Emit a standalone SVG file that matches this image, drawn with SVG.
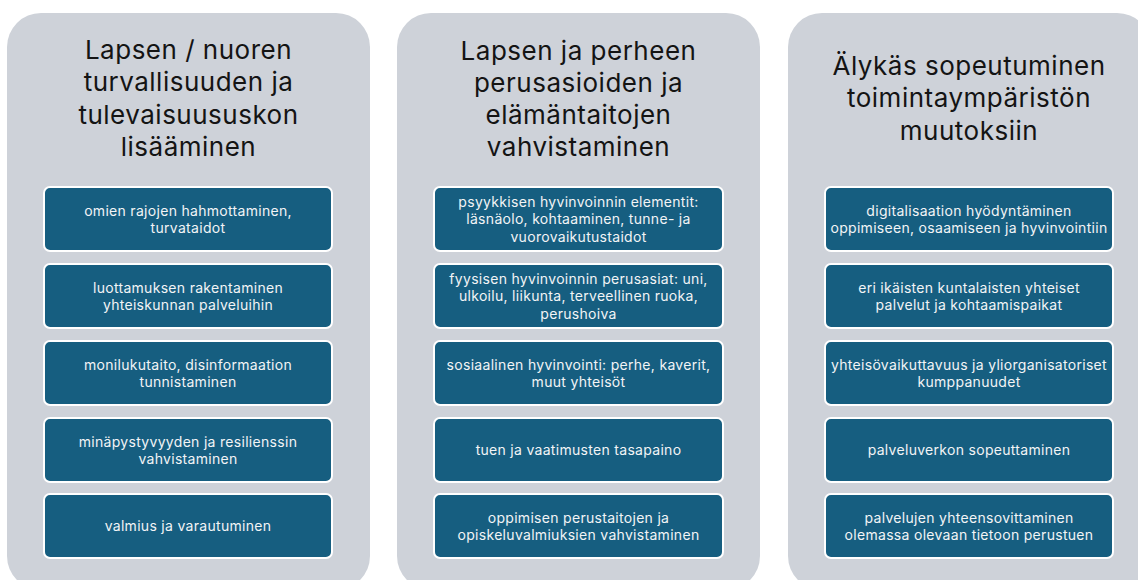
<svg xmlns="http://www.w3.org/2000/svg" width="1138" height="580" viewBox="0 0 1138 580">
<style>
.panel{fill:#CED2D9;}
.box{fill:#165E80;stroke:#FFFFFF;stroke-width:2;}
.title{font-family:Inter,"Open Sans","Liberation Sans",sans-serif;font-size:26px;letter-spacing:0.5px;fill:#141414;text-anchor:middle;}
.lbl{font-family:Inter,"Open Sans","Liberation Sans",sans-serif;font-size:14px;letter-spacing:0.3px;fill:#F2F4F6;text-anchor:middle;}
</style>
<rect width="1138" height="580" fill="#FFFFFF"/>
<g id="col1">
<rect class="panel" x="7" y="13" width="363" height="577" rx="34"/>
<text class="title" x="188.5"><tspan x="188.5" y="58.5">Lapsen / nuoren</tspan><tspan x="188.5" y="91">turvallisuuden ja</tspan><tspan x="188.5" y="123.5">tulevaisuususkon</tspan><tspan x="188.5" y="156">lisääminen</tspan></text>
</g>
<g id="col1-b1"><rect class="box" x="44" y="187" width="288" height="64" rx="6"/><text class="lbl"><tspan x="188" y="215.5">omien rajojen hahmottaminen,</tspan><tspan x="188" y="232.5">turvataidot</tspan></text></g>
<g id="col1-b2"><rect class="box" x="44" y="264" width="288" height="64" rx="6"/><text class="lbl"><tspan x="188" y="292.5">luottamuksen rakentaminen</tspan><tspan x="188" y="309.5">yhteiskunnan palveluihin</tspan></text></g>
<g id="col1-b3"><rect class="box" x="44" y="341" width="288" height="64" rx="6"/><text class="lbl"><tspan x="188" y="369.5">monilukutaito, disinformaation</tspan><tspan x="188" y="386.5">tunnistaminen</tspan></text></g>
<g id="col1-b4"><rect class="box" x="44" y="418" width="288" height="64" rx="6"/><text class="lbl"><tspan x="188" y="446.5">minäpystyvyyden ja resilienssin</tspan><tspan x="188" y="463.5">vahvistaminen</tspan></text></g>
<g id="col1-b5"><rect class="box" x="44" y="494" width="288" height="64" rx="6"/><text class="lbl"><tspan x="188" y="531">valmius ja varautuminen</tspan></text></g>

<g id="col2">
<rect class="panel" x="397" y="13" width="363" height="577" rx="34"/>
<text class="title"><tspan x="578.5" y="60">Lapsen ja perheen</tspan><tspan x="578.5" y="92">perusasioiden ja</tspan><tspan x="578.5" y="124">elämäntaitojen</tspan><tspan x="578.5" y="156">vahvistaminen</tspan></text>
</g>
<g id="col2-b1"><rect class="box" x="434" y="187" width="289" height="64" rx="6"/><text class="lbl"><tspan x="578.5" y="206.5">psyykkisen hyvinvoinnin elementit:</tspan><tspan x="578.5" y="224">läsnäolo, kohtaaminen, tunne- ja</tspan><tspan x="578.5" y="241.5">vuorovaikutustaidot</tspan></text></g>
<g id="col2-b2"><rect class="box" x="434" y="264" width="289" height="64" rx="6"/><text class="lbl"><tspan x="578.5" y="283.5">fyysisen hyvinvoinnin perusasiat: uni,</tspan><tspan x="578.5" y="301">ulkoilu, liikunta, terveellinen ruoka,</tspan><tspan x="578.5" y="318.5">perushoiva</tspan></text></g>
<g id="col2-b3"><rect class="box" x="434" y="341" width="289" height="64" rx="6"/><text class="lbl"><tspan x="578.5" y="369.5">sosiaalinen hyvinvointi: perhe, kaverit,</tspan><tspan x="578.5" y="386.5">muut yhteisöt</tspan></text></g>
<g id="col2-b4"><rect class="box" x="434" y="418" width="289" height="64" rx="6"/><text class="lbl"><tspan x="578.5" y="455">tuen ja vaatimusten tasapaino</tspan></text></g>
<g id="col2-b5"><rect class="box" x="434" y="494" width="289" height="64" rx="6"/><text class="lbl"><tspan x="578.5" y="522.5">oppimisen perustaitojen ja</tspan><tspan x="578.5" y="539.5">opiskeluvalmiuksien vahvistaminen</tspan></text></g>

<g id="col3">
<rect class="panel" x="788" y="13" width="363" height="577" rx="34"/>
<text class="title"><tspan x="969" y="74.5">Älykäs sopeutuminen</tspan><tspan x="969" y="107">toimintaympäristön</tspan><tspan x="969" y="139.5">muutoksiin</tspan></text>
</g>
<g id="col3-b1"><rect class="box" x="825" y="187" width="288" height="64" rx="6"/><text class="lbl"><tspan x="969" y="215.5">digitalisaation hyödyntäminen</tspan><tspan x="969" y="232.5">oppimiseen, osaamiseen ja hyvinvointiin</tspan></text></g>
<g id="col3-b2"><rect class="box" x="825" y="264" width="288" height="64" rx="6"/><text class="lbl"><tspan x="969" y="292.5">eri ikäisten kuntalaisten yhteiset</tspan><tspan x="969" y="309.5">palvelut ja kohtaamispaikat</tspan></text></g>
<g id="col3-b3"><rect class="box" x="825" y="341" width="288" height="64" rx="6"/><text class="lbl"><tspan x="969" y="369.5">yhteisövaikuttavuus ja yliorganisatoriset</tspan><tspan x="969" y="386.5">kumppanuudet</tspan></text></g>
<g id="col3-b4"><rect class="box" x="825" y="418" width="288" height="64" rx="6"/><text class="lbl"><tspan x="969" y="455">palveluverkon sopeuttaminen</tspan></text></g>
<g id="col3-b5"><rect class="box" x="825" y="494" width="288" height="64" rx="6"/><text class="lbl"><tspan x="969" y="522.5">palvelujen yhteensovittaminen</tspan><tspan x="969" y="539.5">olemassa olevaan tietoon perustuen</tspan></text></g>
<g id="connectors"/>
</svg>
